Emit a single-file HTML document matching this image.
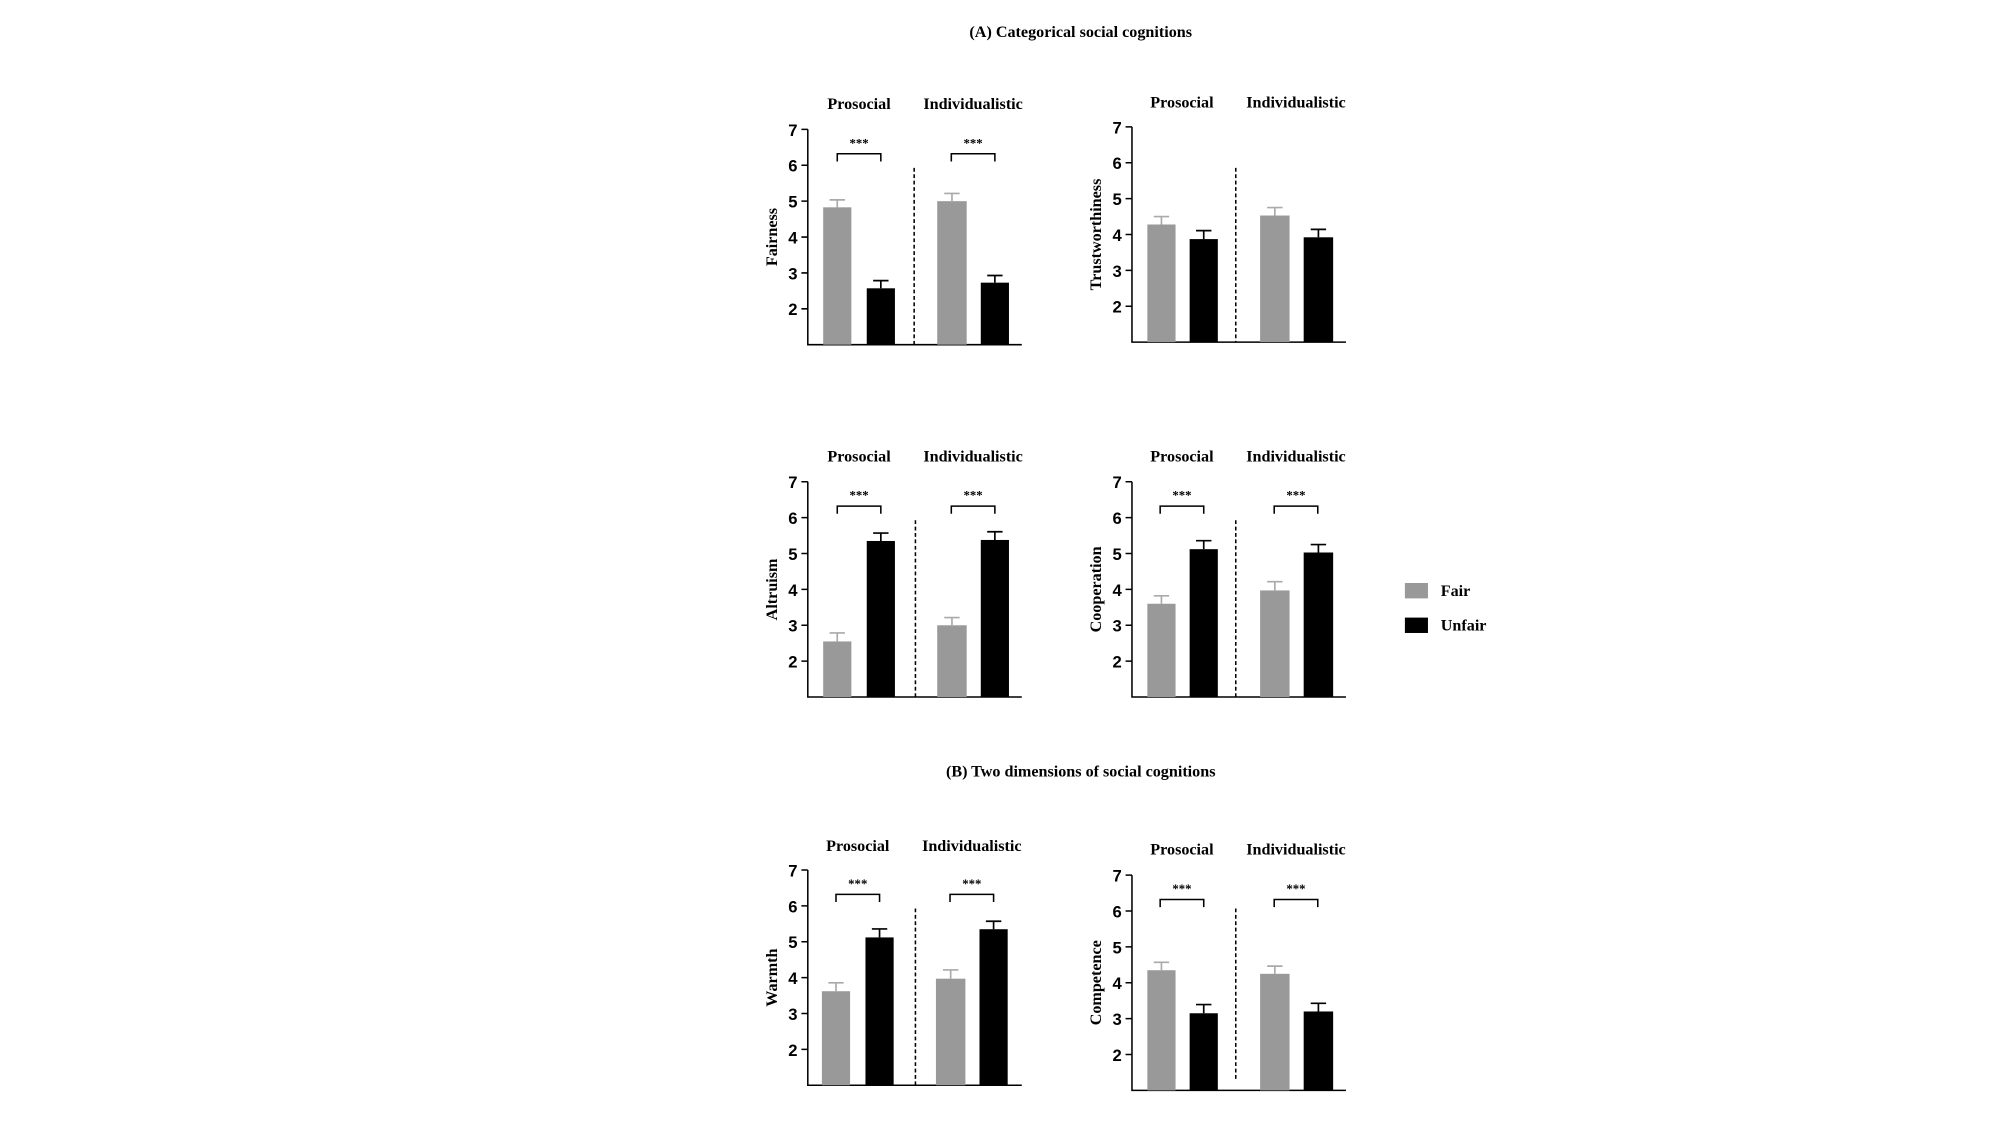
<!DOCTYPE html>
<html><head><meta charset="utf-8"><style>
html,body{margin:0;padding:0;background:#fff;}
svg{display:block}
.t{font-family:"Liberation Serif",serif;font-weight:bold;font-size:12.6px;fill:#000}
.n{font-family:"Liberation Sans",sans-serif;font-weight:bold;font-size:13px;fill:#000;text-anchor:end}
.g{fill:#999}
.b{fill:#000}
.eg{stroke:#aaa;stroke-width:1.3;fill:none}
.eb{stroke:#000;stroke-width:1.3;fill:none}
.ax{stroke:#000;stroke-width:1.2;fill:none}
.d{stroke:#000;stroke-width:1.2;stroke-dasharray:3,2}
</style></head><body>
<svg width="2000" height="1125" viewBox="0 0 1560 878" xmlns="http://www.w3.org/2000/svg">
<g transform="translate(-3,-2)">
<text class="t" x="846" y="31" text-anchor="middle">(A) Categorical social cognitions</text>
<text class="t" x="846" y="608" text-anchor="middle">(B) Two dimensions of social cognitions</text>

<rect x="1099" y="457" width="18" height="12" fill="#999"/>
<text class="t" x="1127" y="467">Fair</text>
<rect x="1099" y="484" width="18" height="12" fill="#000"/>
<text class="t" x="1127" y="494">Unfair</text>

<g transform="translate(633,103)">
<text class="t" x="40" y="-16" text-anchor="middle">Prosocial</text>
<text class="t" x="129" y="-16" text-anchor="middle">Individualistic</text>
<path class="ax" d="M0,0V168H167M-5,0H0M-5,28H0M-5,56H0M-5,84H0M-5,112H0M-5,140H0"/>
<text class="n" x="-8" y="5">7</text><text class="n" x="-8" y="33">6</text><text class="n" x="-8" y="61">5</text><text class="n" x="-8" y="89">4</text><text class="n" x="-8" y="117">3</text><text class="n" x="-8" y="145">2</text>
<text class="t" transform="translate(-24,84) rotate(-90)" text-anchor="middle">Fairness</text>
<line class="d" x1="83" y1="30" x2="83" y2="168"/>
<rect class="g" x="12" y="60.8" width="22" height="107.2"/><path class="eg" d="M23,60.8V55M17,55H29"/>
<rect class="b" x="46" y="124" width="22" height="44"/><path class="eb" d="M57,124V118M51,118H63"/>
<rect class="g" x="101" y="56" width="23" height="112"/><path class="eg" d="M112.5,56V50M106.5,50H118.5"/>
<rect class="b" x="135" y="119.6" width="22" height="48.4"/><path class="eb" d="M146,119.6V114M140,114H152"/>
<path class="ax" d="M23,25V19H57V25M112,25V19H146V25"/>
<text class="t" x="40" y="14" text-anchor="middle" style="font-size:10px">***</text>
<text class="t" x="129" y="14" text-anchor="middle" style="font-size:10px">***</text>
</g>

<g transform="translate(886,101)">
<text class="t" x="39" y="-15" text-anchor="middle">Prosocial</text>
<text class="t" x="128" y="-15" text-anchor="middle">Individualistic</text>
<path class="ax" d="M0,0V168H167M-5,0H0M-5,28H0M-5,56H0M-5,84H0M-5,112H0M-5,140H0"/>
<text class="n" x="-8" y="5">7</text><text class="n" x="-8" y="33">6</text><text class="n" x="-8" y="61">5</text><text class="n" x="-8" y="89">4</text><text class="n" x="-8" y="117">3</text><text class="n" x="-8" y="145">2</text>
<text class="t" transform="translate(-24,84) rotate(-90)" text-anchor="middle">Trustworthiness</text>
<line class="d" x1="81" y1="32" x2="81" y2="168"/>
<rect class="g" x="12" y="76.2" width="22" height="91.8"/><path class="eg" d="M23,76.2V70M17,70H29"/>
<rect class="b" x="45" y="87.6" width="22" height="80.4"/><path class="eb" d="M56,87.6V81M50,81H62"/>
<rect class="g" x="100" y="69.2" width="23" height="98.8"/><path class="eg" d="M111.5,69.2V63M105.5,63H117.5"/>
<rect class="b" x="134" y="86.2" width="23" height="81.8"/><path class="eb" d="M145.5,86.2V80M139.5,80H151.5"/>
</g>

<g transform="translate(633,378)">
<text class="t" x="40" y="-16" text-anchor="middle">Prosocial</text>
<text class="t" x="129" y="-16" text-anchor="middle">Individualistic</text>
<path class="ax" d="M0,0V168H167M-5,0H0M-5,28H0M-5,56H0M-5,84H0M-5,112H0M-5,140H0"/>
<text class="n" x="-8" y="5">7</text><text class="n" x="-8" y="33">6</text><text class="n" x="-8" y="61">5</text><text class="n" x="-8" y="89">4</text><text class="n" x="-8" y="117">3</text><text class="n" x="-8" y="145">2</text>
<text class="t" transform="translate(-24,84) rotate(-90)" text-anchor="middle">Altruism</text>
<line class="d" x1="84" y1="30" x2="84" y2="168"/>
<rect class="g" x="12" y="124.6" width="22" height="43.4"/><path class="eg" d="M23,124.6V118M17,118H29"/>
<rect class="b" x="46" y="46.2" width="22" height="121.8"/><path class="eb" d="M57,46.2V40M51,40H63"/>
<rect class="g" x="101" y="112" width="23" height="56"/><path class="eg" d="M112.5,112V106M106.5,106H118.5"/>
<rect class="b" x="135" y="45.4" width="22" height="122.6"/><path class="eb" d="M146,45.4V39M140,39H152"/>
<path class="ax" d="M23,25V19H57V25M112,25V19H146V25"/>
<text class="t" x="40" y="14" text-anchor="middle" style="font-size:10px">***</text>
<text class="t" x="129" y="14" text-anchor="middle" style="font-size:10px">***</text>
</g>

<g transform="translate(886,378)">
<text class="t" x="39" y="-16" text-anchor="middle">Prosocial</text>
<text class="t" x="128" y="-16" text-anchor="middle">Individualistic</text>
<path class="ax" d="M0,0V168H167M-5,0H0M-5,28H0M-5,56H0M-5,84H0M-5,112H0M-5,140H0"/>
<text class="n" x="-8" y="5">7</text><text class="n" x="-8" y="33">6</text><text class="n" x="-8" y="61">5</text><text class="n" x="-8" y="89">4</text><text class="n" x="-8" y="117">3</text><text class="n" x="-8" y="145">2</text>
<text class="t" transform="translate(-24,84) rotate(-90)" text-anchor="middle">Cooperation</text>
<line class="d" x1="81" y1="30" x2="81" y2="168"/>
<rect class="g" x="12" y="95.2" width="22" height="72.8"/><path class="eg" d="M23,95.2V89M17,89H29"/>
<rect class="b" x="45" y="52.6" width="22" height="115.4"/><path class="eb" d="M56,52.6V46M50,46H62"/>
<rect class="g" x="100" y="84.8" width="23" height="83.2"/><path class="eg" d="M111.5,84.8V78M105.5,78H117.5"/>
<rect class="b" x="134" y="55.2" width="23" height="112.8"/><path class="eb" d="M145.5,55.2V49M139.5,49H151.5"/>
<path class="ax" d="M22,25V19H56V25M111,25V19H145V25"/>
<text class="t" x="39" y="14" text-anchor="middle" style="font-size:10px">***</text>
<text class="t" x="128" y="14" text-anchor="middle" style="font-size:10px">***</text>
</g>

<g transform="translate(633,681)">
<text class="t" x="39" y="-15" text-anchor="middle">Prosocial</text>
<text class="t" x="128" y="-15" text-anchor="middle">Individualistic</text>
<path class="ax" d="M0,0V168H167M-5,0H0M-5,28H0M-5,56H0M-5,84H0M-5,112H0M-5,140H0"/>
<text class="n" x="-8" y="5">7</text><text class="n" x="-8" y="33">6</text><text class="n" x="-8" y="61">5</text><text class="n" x="-8" y="89">4</text><text class="n" x="-8" y="117">3</text><text class="n" x="-8" y="145">2</text>
<text class="t" transform="translate(-24,84) rotate(-90)" text-anchor="middle">Warmth</text>
<line class="d" x1="84" y1="30" x2="84" y2="168"/>
<rect class="g" x="11" y="94.6" width="22" height="73.4"/><path class="eg" d="M22,94.6V88M16,88H28"/>
<rect class="b" x="45" y="52.6" width="22" height="115.4"/><path class="eb" d="M56,52.6V46M50,46H62"/>
<rect class="g" x="100" y="84.8" width="23" height="83.2"/><path class="eg" d="M111.5,84.8V78M105.5,78H117.5"/>
<rect class="b" x="134" y="46.2" width="22" height="121.8"/><path class="eb" d="M145,46.2V40M139,40H151"/>
<path class="ax" d="M22,25V19H56V25M111,25V19H145V25"/>
<text class="t" x="39" y="14" text-anchor="middle" style="font-size:10px">***</text>
<text class="t" x="128" y="14" text-anchor="middle" style="font-size:10px">***</text>
</g>

<g transform="translate(886,685)">
<text class="t" x="39" y="-16" text-anchor="middle">Prosocial</text>
<text class="t" x="128" y="-16" text-anchor="middle">Individualistic</text>
<path class="ax" d="M0,0V168H167M-5,0H0M-5,28H0M-5,56H0M-5,84H0M-5,112H0M-5,140H0"/>
<text class="n" x="-8" y="5">7</text><text class="n" x="-8" y="33">6</text><text class="n" x="-8" y="61">5</text><text class="n" x="-8" y="89">4</text><text class="n" x="-8" y="117">3</text><text class="n" x="-8" y="145">2</text>
<text class="t" transform="translate(-24,84) rotate(-90)" text-anchor="middle">Competence</text>
<line class="d" x1="81" y1="26" x2="81" y2="160"/>
<rect class="g" x="12" y="74.2" width="22" height="93.8"/><path class="eg" d="M23,74.2V68M17,68H29"/>
<rect class="b" x="45" y="107.8" width="22" height="60.2"/><path class="eb" d="M56,107.8V101M50,101H62"/>
<rect class="g" x="100" y="77" width="23" height="91"/><path class="eg" d="M111.5,77V71M105.5,71H117.5"/>
<rect class="b" x="134" y="106.4" width="23" height="61.6"/><path class="eb" d="M145.5,106.4V100M139.5,100H151.5"/>
<path class="ax" d="M22,25V19H56V25M111,25V19H145V25"/>
<text class="t" x="39" y="14" text-anchor="middle" style="font-size:10px">***</text>
<text class="t" x="128" y="14" text-anchor="middle" style="font-size:10px">***</text>
</g>
</g>
</svg>
</body></html>
